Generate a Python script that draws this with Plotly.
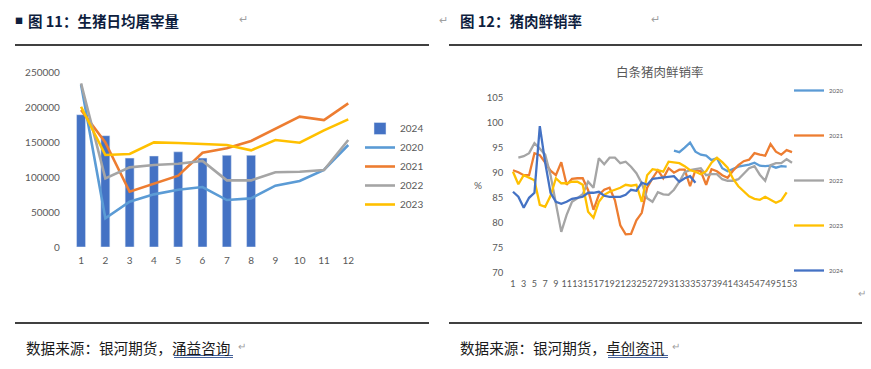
import plotly.graph_objects as go

W, H = 871, 369

# ---------------- Left chart data: daily slaughter volume ----------------
months = list(range(1, 13))
bar_2024 = [189000, 159000, 127000, 130000, 136000, 127000, 131000, 131000]
slaughter_2020 = [232000, 41000, 64700, 75200, 81900, 85700, 67100, 69500, 87600, 94300, 110000, 145700]
slaughter_2021 = [195700, 149500, 79000, 91000, 101900, 134700, 141000, 151400, 168600, 186200, 181400, 205200]
slaughter_2022 = [233800, 98100, 113800, 117100, 119000, 122900, 95200, 95200, 106700, 107600, 110000, 152900]
slaughter_2023 = [200400, 131400, 132900, 149500, 148600, 146700, 145700, 138100, 152900, 149000, 166700, 182400]
left_yticks = [0, 50000, 100000, 150000, 200000, 250000]

# ---------------- Right chart data: fresh-sale rate (%) by week ----------------
weeks = list(range(1, 54))
N = None
rate_2020 = [N] * 30 + [94.4, 94.1, 95.0, 96.0, 94.2, 93.6, 93.4, 92.5, 92.9, 90.9, 90.3, 90.7,
                        91.2, 91.4, 91.6, 92.0, 91.4, 91.3, 91.4, 91.0, 91.3, 91.2, N]
rate_2021 = [90.5, 90.1, 89.5, 89.5, 93.9, 93.5, 92.0, 90.4, 89.5, 92.1, 87.6, 88.8, 88.9, 88.9,
             86.5, 82.6, 85.6, 86.6, 87.0, 84.5, 79.5, 77.7, 77.8, 80.5, 82.0, 87.0, 88.9, 90.5,
             88.9, 90.9, 90.0, 90.6, 90.6, 87.3, 90.5, 90.3, 87.6, 90.7, 90.3, 89.5, 89.0, 90.4,
             91.5, 92.3, 92.6, 93.9, 93.6, 93.4, 95.7, 94.2, 93.6, 94.5, 94.1]
rate_2022 = [N, 93.0, 93.3, 93.9, 95.9, 94.8, 93.6, 89.5, 84.0, 78.2, 81.6, 84.2, 84.9, 85.7,
             88.2, 87.0, 92.9, 91.7, 93.0, 93.0, 91.9, 92.2, 91.2, 89.9, 87.9, 84.9, 84.2, 86.1,
             85.7, 85.6, 86.6, 88.2, 90.1, 90.5, 90.7, 90.9, 89.5, 89.7, 89.7, 88.7, 88.4, 88.4,
             88.7, 89.9, 90.9, 91.3, 89.6, 88.4, 91.5, 91.9, 91.9, 92.7, 92.0]
rate_2023 = [90.2, 87.7, 89.5, 89.0, 88.5, 83.6, 83.2, 85.4, 88.9, 87.9, 87.9, 88.2, 88.2, 87.6,
             82.2, 81.0, 84.2, 85.6, 86.2, 86.6, 87.0, 87.6, 87.4, 87.6, 84.2, 89.5, 90.7, 90.5,
             90.2, 92.2, 92.0, 91.9, 91.3, 90.5, 90.2, 89.7, 90.3, 92.0, 93.0, 92.1, 91.0, 88.8,
             87.3, 86.2, 85.3, 84.8, 84.6, 85.2, 84.6, 84.0, 84.5, 86.1, N]
rate_2024 = [86.2, 85.2, 83.0, 85.0, 86.0, 99.3, 92.0, 86.0, 84.2, 83.8, 84.2, 84.8, 85.0, 85.2,
             86.0, 86.0, 86.2, 85.4, 85.2, 85.2, 85.2, 85.6, 86.6, 86.4, 88.0, 87.6, 88.8, 88.9,
             89.0, 89.2, 89.3, 88.2, 88.9, 89.3, 88.0] + [N] * 18
right_yticks = [70, 75, 80, 85, 90, 95, 100, 105]
right_xticks = list(range(1, 54, 2))

C2020, C2021, C2022, C2023, C2024 = "#5B9BD5", "#ED7D31", "#A5A5A5", "#FFC000", "#4472C4"
AXIS_GREY = "#595959"
FONT = "Lato, 'Noto Sans CJK SC', sans-serif"
CJK = "'Noto Sans CJK SC', sans-serif"


def fx(x):
    return x / W


def fy(y):
    return 1 - y / H


fig = go.Figure()

# ---- left chart traces ----
fig.add_trace(go.Bar(x=months[:len(bar_2024)], y=bar_2024, name="2024", marker_color=C2024,
                     width=0.37, xaxis="x", yaxis="y", legend="legend"))
for name, vals, col in [("2020", slaughter_2020, C2020), ("2021", slaughter_2021, C2021),
                        ("2022", slaughter_2022, C2022), ("2023", slaughter_2023, C2023)]:
    fig.add_trace(go.Scatter(x=months, y=vals, name=name, mode="lines",
                             line=dict(color=col, width=2.6), xaxis="x", yaxis="y",
                             legend="legend"))

# ---- right chart traces ----
for name, vals, col in [("2020", rate_2020, C2020), ("2021", rate_2021, C2021),
                        ("2022", rate_2022, C2022), ("2023", rate_2023, C2023),
                        ("2024", rate_2024, C2024)]:
    fig.add_trace(go.Scatter(x=weeks, y=vals, name=name, mode="lines",
                             line=dict(color=col, width=2.3), xaxis="x2", yaxis="y2",
                             legend="legend2", legendgroup="r" + name, connectgaps=False))

axis_common = dict(showgrid=False, zeroline=False, showline=False, ticks="")

fig.update_layout(
    width=W, height=H, margin=dict(l=0, r=0, t=0, b=0, autoexpand=False),
    paper_bgcolor="white", plot_bgcolor="white", showlegend=True,
    xaxis=dict(domain=[fx(68.9), fx(360.4)], range=[0.5, 12.5], tickmode="array",
               tickvals=months, ticktext=[str(m) for m in months], anchor="y",
               ticklabelstandoff=6, tickfont=dict(family=FONT, color=AXIS_GREY, size=10),
               **axis_common),
    yaxis=dict(domain=[fy(247), fy(72)], range=[0, 250000], tickmode="array",
               tickvals=left_yticks, ticktext=[str(v) for v in left_yticks], anchor="x",
               ticklabelstandoff=8, tickfont=dict(family=FONT, color=AXIS_GREY, size=10),
               **axis_common),
    xaxis2=dict(domain=[fx(510.3), fx(794.7)], range=[0.5, 53.5], tickmode="array",
                tickvals=right_xticks, ticktext=[str(v) for v in right_xticks], anchor="y2",
                tickangle=0, ticklabelstandoff=4,
                tickfont=dict(family=FONT, color=AXIS_GREY, size=9), **axis_common),
    yaxis2=dict(domain=[fy(273), fy(97.5)], range=[70, 105], tickmode="array",
                tickvals=right_yticks, ticktext=[str(v) for v in right_yticks], anchor="x2",
                ticklabelstandoff=6,
                tickfont=dict(family=FONT, color=AXIS_GREY, size=9.5), **axis_common),
    legend=dict(x=fx(360), y=fy(114), xanchor="left", yanchor="top", traceorder="normal",
                font=dict(family=FONT, size=10, color=AXIS_GREY), itemwidth=30,
                bgcolor="rgba(0,0,0,0)", tracegroupgap=0),
    legend2=dict(x=fx(789), y=fy(76), xanchor="left", yanchor="top", traceorder="grouped",
                 font=dict(family=FONT, size=6, color=AXIS_GREY), itemwidth=30,
                 bgcolor="rgba(0,0,0,0)", tracegroupgap=26.0),
)

annotations = []
shapes = []


def text(x, y, s, size, color="#000", family=CJK, xanchor="left", yanchor="middle"):
    annotations.append(dict(x=fx(x), y=fy(y), xref="paper", yref="paper", text=s,
                            showarrow=False, xanchor=xanchor, yanchor=yanchor,
                            font=dict(family=family, size=size, color=color)))


TITLE_C = "#0E1E3E"
# header titles
text(13, 21, "■", 8, TITLE_C)
text(26, 21, "<b>图 11：生猪日均屠宰量</b>", 14.5, TITLE_C)
text(237, 18, "↵", 11, "#A0A0A0")
text(437, 19, "↵", 11, "#A0A0A0")
text(458, 21, "<b>图 12：猪肉鲜销率</b>", 14.5, TITLE_C)
text(649, 18, "↵", 11, "#A0A0A0")
# right chart title and unit
text(660, 72, "白条猪肉鲜销率", 12.5, AXIS_GREY, xanchor="center")
text(478, 185, "%", 10, AXIS_GREY, family=FONT, xanchor="center")
text(856, 292, "↵", 10, "#A0A0A0")
# footers
text(24, 347, "数据来源：银河期货，涌益咨询", 14.6, "#1A1A1A")
text(236, 345, "↵", 10, "#A0A0A0")
text(458, 347, "数据来源：银河期货，卓创资讯", 14.6, "#1A1A1A")
text(670, 345, "↵", 10, "#A0A0A0")

# horizontal rules
for x0, x1 in [(15, 429), (449, 862)]:
    shapes.append(dict(type="line", xref="paper", yref="paper", x0=fx(x0), x1=fx(x1),
                       y0=fy(45), y1=fy(45), line=dict(color="#000", width=1.5)))
    shapes.append(dict(type="line", xref="paper", yref="paper", x0=fx(x0), x1=fx(x1),
                       y0=fy(323), y1=fy(323), line=dict(color="#000", width=1.5)))
# double underline under source names
for x0, x1 in [(174, 233), (608, 668)]:
    for yy in (355.5, 357.5):
        shapes.append(dict(type="line", xref="paper", yref="paper", x0=fx(x0), x1=fx(x1),
                           y0=fy(yy), y1=fy(yy), line=dict(color="#2F4F8F", width=0.9)))

fig.update_layout(annotations=annotations, shapes=shapes)
fig.write_html("out.html", config={"displayModeBar": False},
               post_script="document.body.style.margin='0';")
